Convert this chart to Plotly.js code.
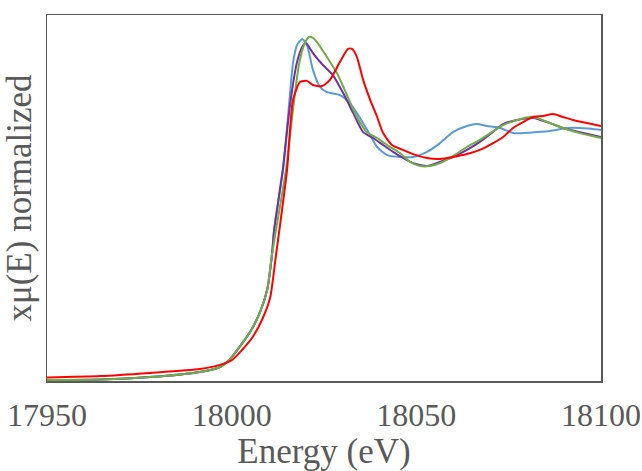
<!DOCTYPE html>
<html>
<head>
<meta charset="utf-8">
<script src="https://cdn.plot.ly/plotly-3.0.1.min.js"></script>
<style>html,body{margin:0;padding:0;background:#fff;}#chart{width:642px;height:471px;}</style>
</head>
<body>
<div id="chart"></div>
<script>
// Energies (eV) and normalized absorption
var preE = [17950, 17964.4, 17977.9, 17991.4, 17996.8, 17999.6, 18002.3, 18005.0, 18007.7, 18009.6, 18010.9];
var preY = [0.004, 0.006, 0.016, 0.037, 0.057, 0.090, 0.143, 0.201, 0.283, 0.373, 0.516];

var blueE = [18011.5, 18013.9, 18015.3, 18016.6, 18017.7, 18019.1, 18020.4, 18022.0, 18023.9, 18025.8, 18029.3, 18032.0, 18033.9, 18036.7, 18039.4, 18042.1, 18045.6, 18049.1, 18052.9, 18056.4, 18059.9, 18063.7, 18066.4, 18069.1, 18072.7, 18076.2, 18078.9, 18082.7, 18086.2, 18090.8, 18094.3, 18097.8, 18100];
var blueY = [0.619, 0.865, 1.090, 1.303, 1.377, 1.402, 1.377, 1.275, 1.205, 1.184, 1.172, 1.139, 1.098, 1.029, 0.959, 0.926, 0.918, 0.918, 0.939, 0.975, 1.020, 1.045, 1.053, 1.045, 1.037, 1.016, 1.016, 1.020, 1.025, 1.037, 1.037, 1.033, 1.029];

var purpleE = [18011.5, 18013.9, 18015.8, 18017.7, 18019.1, 18020.1, 18022.0, 18024.7, 18027.4, 18030.2, 18032.9, 18035.6, 18038.3, 18041.0, 18043.7, 18046.4, 18049.1, 18052.9, 18056.4, 18059.9, 18063.7, 18067.2, 18070.0, 18073.5, 18077.3, 18081.6, 18086.2, 18089.7, 18094.3, 18100];
var purpleY = [0.619, 0.873, 1.131, 1.307, 1.369, 1.385, 1.344, 1.295, 1.254, 1.180, 1.098, 1.020, 0.996, 0.967, 0.939, 0.914, 0.893, 0.881, 0.898, 0.918, 0.947, 0.980, 1.012, 1.053, 1.070, 1.078, 1.057, 1.037, 1.020, 1.000];

var greenE = [18012.0, 18014.7, 18016.6, 18018.2, 18019.6, 18020.9, 18022.0, 18023.1, 18025.8, 18028.5, 18031.2, 18033.9, 18036.6, 18039.4, 18042.1, 18045.6, 18048.3, 18051.0, 18053.7, 18056.4, 18059.9, 18063.7, 18067.2, 18070.0, 18073.5, 18077.3, 18080.8, 18082.7, 18086.2, 18089.7, 18094.3, 18100];
var greenY = [0.619, 0.865, 1.111, 1.295, 1.377, 1.410, 1.406, 1.389, 1.328, 1.262, 1.172, 1.082, 1.020, 0.996, 0.967, 0.934, 0.898, 0.881, 0.881, 0.893, 0.922, 0.959, 0.988, 1.016, 1.049, 1.070, 1.082, 1.078, 1.057, 1.037, 1.016, 0.996];

var redE = [17950, 17964.4, 17977.9, 17991.4, 17996.8, 18000.1, 18002.8, 18005.5, 18008.2, 18010.4, 18012.0, 18013.1, 18015.0, 18016.6, 18018.5, 18020.4, 18022.0, 18024.5, 18026.6, 18029.3, 18031.5, 18032.6, 18033.9, 18035.6, 18037.5, 18039.4, 18041.0, 18043.4, 18046.4, 18049.1, 18052.9, 18056.4, 18059.9, 18063.7, 18067.2, 18070.8, 18073.5, 18076.2, 18078.9, 18081.6, 18084.3, 18087.0, 18089.7, 18092.4, 18096.2, 18100];
var redY = [0.014, 0.020, 0.033, 0.049, 0.066, 0.086, 0.127, 0.176, 0.250, 0.340, 0.516, 0.639, 0.865, 1.152, 1.225, 1.230, 1.213, 1.209, 1.234, 1.307, 1.361, 1.361, 1.328, 1.234, 1.152, 1.082, 1.016, 0.967, 0.947, 0.930, 0.914, 0.910, 0.918, 0.930, 0.947, 0.975, 1.000, 1.037, 1.061, 1.082, 1.086, 1.094, 1.082, 1.070, 1.057, 1.045];

var xTicks = [17950, 18000, 18050, 18100];

function tr(e, y, color) {
  return {x: e, y: y, type: 'scatter', mode: 'lines', line: {color: color, width: 2, shape: 'spline', smoothing: 0.6}, hoverinfo: 'skip'};
}
var traces = [
  tr(preE.concat(blueE), preY.concat(blueY), '#5B9BD5'),
  tr(preE.concat(purpleE), preY.concat(purpleY), '#7030A0'),
  tr(preE.concat(greenE), preY.concat(greenY), '#70AD47'),
  tr(redE, redY, '#FF0000')
];

var fontFam = '"Liberation Serif", "Times New Roman", serif';
var layout = {
  width: 642, height: 471,
  margin: {l: 47, r: 41, t: 15, b: 90},
  paper_bgcolor: '#ffffff', plot_bgcolor: '#ffffff',
  showlegend: false,
  font: {family: fontFam, color: '#595959', size: 32},
  xaxis: {
    range: [17950, 18100], tickvals: xTicks, ticktext: xTicks.map(String),
    showgrid: false, zeroline: false, showline: true, mirror: true,
    linecolor: '#595959', linewidth: 1.5, ticks: 'outside', ticklen: 5, tickcolor: 'rgba(0,0,0,0)',
    tickfont: {family: fontFam, size: 32, color: '#595959'},
    title: {text: 'Energy (eV)', font: {family: fontFam, size: 35, color: '#595959'}, standoff: 5},
    automargin: false
  },
  yaxis: {
    range: [0, 1.5], showticklabels: false, ticks: '',
    showgrid: false, zeroline: false, showline: true, mirror: true,
    linecolor: '#595959', linewidth: 1.5,
    title: {text: 'xμ(E) normalized', font: {family: fontFam, size: 35, color: '#595959'}, standoff: 8},
    automargin: false
  }
};
Plotly.newPlot('chart', traces, layout, {staticPlot: true, displayModeBar: false});
</script>
</body>
</html>
